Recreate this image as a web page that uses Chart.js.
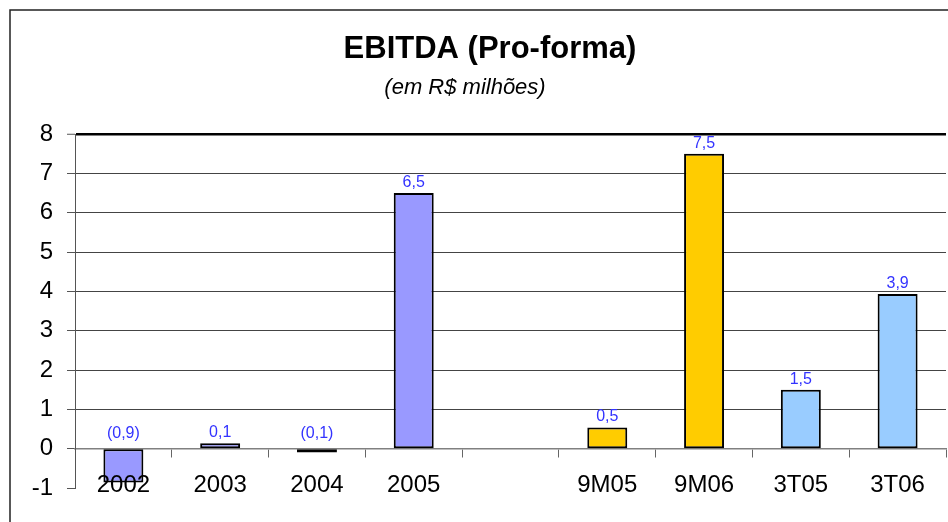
<!DOCTYPE html>
<html>
<head>
<meta charset="utf-8">
<script src="https://cdn.jsdelivr.net/npm/chart.js@4.4.1/dist/chart.umd.min.js"></script>
<style>
  body { margin: 0; background: #fff; }
  canvas { display: block; }
</style>
</head>
<body>
<canvas id="ebitda" width="948" height="522"></canvas>
<script>
// values (R$ milhões), empty slot separates the years from 9M/3T
const categories = ['2002', '2003', '2004', '2005', '', '9M05', '9M06', '3T05', '3T06'];
const ebitda = [-0.86, 0.14, -0.1, 6.5, null, 0.54, 7.5, 1.5, 3.93];
const yTicks = [-1, 0, 1, 2, 3, 4, 5, 6, 7, 8];

const FONT = '"Liberation Sans", Arial, sans-serif';
const barColors = ['#9999ff', '#9999ff', '#9999ff', '#9999ff', '#9999ff',
                   '#ffcc00', '#ffcc00', '#99ccff', '#99ccff'];

function fmt(v) {
  const s = Math.abs(v).toFixed(1).replace('.', ',');
  return v < 0 ? '(' + s + ')' : s;
}

// frame + titles
const frame = {
  id: 'frame',
  beforeDraw(chart) {
    const ctx = chart.ctx;
    ctx.save();
    ctx.fillStyle = '#fff';
    ctx.fillRect(0, 0, chart.width, chart.height);
    ctx.strokeStyle = '#222';
    ctx.lineWidth = 1.5;
    ctx.beginPath();
    ctx.moveTo(10, chart.height);
    ctx.lineTo(10, 10);
    ctx.lineTo(chart.width, 10);
    ctx.stroke();

    ctx.fillStyle = '#000';
    ctx.textAlign = 'center';
    ctx.textBaseline = 'alphabetic';
    ctx.font = 'bold 31px ' + FONT;
    ctx.fillText('EBITDA (Pro-forma)', 490, 58);
    ctx.font = 'italic 22px ' + FONT;
    ctx.fillText('(em R$ milhões)', 465, 94);
    ctx.restore();
  }
};

// value labels above the bars (above the zero line for negatives)
const valueLabels = {
  id: 'valueLabels',
  afterDatasetsDraw(chart) {
    const ctx = chart.ctx;
    const meta = chart.getDatasetMeta(0);
    ctx.save();
    ctx.font = '16px ' + FONT;
    ctx.fillStyle = '#3333ff';
    ctx.textAlign = 'center';
    ctx.textBaseline = 'alphabetic';
    meta.data.forEach((bar, i) => {
      const v = ebitda[i];
      if (v === null || v === undefined) return;
      const y = v < 0 ? bar.base - 11 : bar.y - 6;
      ctx.fillText(fmt(v), bar.x, y);
    });
    ctx.restore();
  }
};

new Chart(document.getElementById('ebitda'), {
  type: 'bar',
  data: {
    labels: categories,
    datasets: [{
      data: ebitda,
      backgroundColor: barColors,
      borderColor: '#000',
      borderWidth: 2,
      borderSkipped: false,
      categoryPercentage: 1,
      barPercentage: 0.413
    }]
  },
  options: {
    responsive: false,
    animation: false,
    layout: { padding: { left: 0, right: 2, top: 134, bottom: 34 } },
    plugins: {
      legend: { display: false },
      tooltip: { enabled: false },
      title: { display: false }
    },
    scales: {
      x: {
        position: { y: 0 },
        offset: true,
        afterFit: s => { s.height = 0; },
        grid: { drawOnChartArea: false, offset: true, tickLength: 8, color: '#666', lineWidth: 1 },
        border: { color: '#808080', width: 1.5 },
        ticks: { z: 1, color: '#000', font: { family: FONT, size: 24 }, padding: 14, maxRotation: 0, autoSkip: false }
      },
      y: {
        min: yTicks[0],
        max: yTicks[yTicks.length - 1],
        afterFit: s => { s.width = 75; },
        grid: {
          color: c => c.tick.value === -1 ? 'rgba(0,0,0,0)' : (c.tick.value === 8 ? '#000' : (c.tick.value === 0 ? '#808080' : '#444')),
          lineWidth: c => c.tick.value === 8 ? 2.5 : 1,
          tickColor: '#555',
          tickWidth: 1,
          tickLength: 8
        },
        border: { color: '#555', width: 1 },
        ticks: { stepSize: 1, padding: 14, color: '#000', font: { family: FONT, size: 24 } }
      }
    }
  },
  plugins: [frame, valueLabels]
});
</script>
</body>
</html>
